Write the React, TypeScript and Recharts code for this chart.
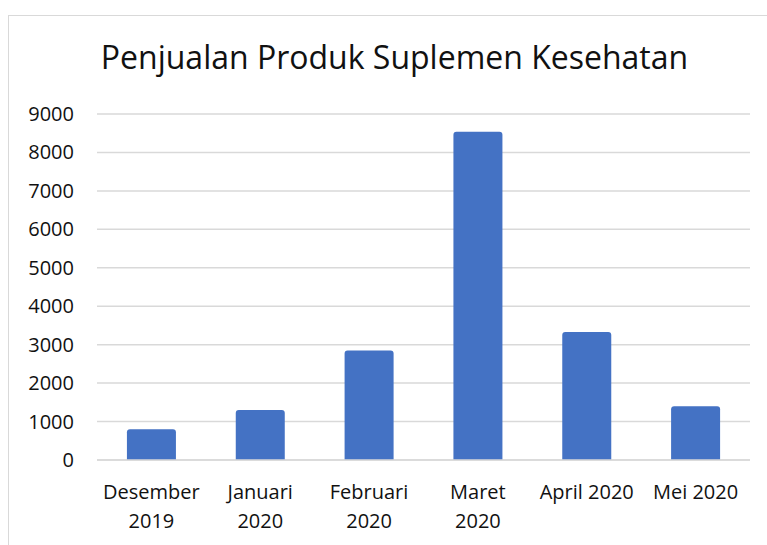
import React from "react";
import { BarChart, Bar, XAxis, YAxis, CartesianGrid } from "recharts";

const title = "Penjualan Produk Suplemen Kesehatan";
const categories = ["Desember\n2019", "Januari\n2020", "Februari\n2020", "Maret\n2020", "April 2020", "Mei 2020"];
const sales = [800, 1300, 2850, 8540, 3330, 1400];
const yTicks = [0, 1000, 2000, 3000, 4000, 5000, 6000, 7000, 8000, 9000];

const data = categories.map((c, i) => ({ name: c, value: sales[i] }));

const FONT = "'Open Sans', sans-serif";

const XTick = (props: any) => {
  const { x, y, payload } = props;
  const lines = String(payload.value).split("\n");
  return (
    <text x={x} y={y} textAnchor="middle" fontFamily={FONT} fontSize={20} fill="#111">
      {lines.map((l, i) => (
        <tspan key={i} x={x} dy={i === 0 ? 39 : 29}>
          {l}
        </tspan>
      ))}
    </text>
  );
};

const YTick = (props: any) => {
  const { y, payload } = props;
  return (
    <text x={74} y={y} dy={7} textAnchor="end" fontFamily={FONT} fontSize={20} fill="#111">
      {payload.value}
    </text>
  );
};

export default function App() {
  return (
    <div style={{ position: "absolute", left: 0, top: 0, width: 767, height: 545, background: "#fff", overflow: "hidden" }}>
      <div
        style={{
          position: "absolute",
          left: 8,
          top: 15,
          width: 780,
          height: 560,
          border: "1.5px solid #d9d9d9",
          boxSizing: "border-box",
        }}
      />
      <div
        style={{
          position: "absolute",
          left: 0,
          width: 789,
          top: 35,
          textAlign: "center",
          fontFamily: FONT,
          fontSize: 32,
          lineHeight: "44px",
          color: "#111",
          whiteSpace: "nowrap",
        }}
      >
        {title}
      </div>
      <div style={{ position: "absolute", left: 0, top: 0 }}>
        <BarChart
          width={767}
          height={545}
          data={data}
          margin={{ top: 114, right: 17, bottom: 0, left: 0 }}
          barCategoryGap="27.5%"
        >
          <CartesianGrid vertical={false} stroke="#d9d9d9" strokeWidth={1.5} />
          <XAxis
            dataKey="name"
            height={85}
            tickLine={false}
            axisLine={{ stroke: "#d9d9d9", strokeWidth: 1.5 }}
            tickSize={0}
            tickMargin={0}
            interval={0}
            tick={<XTick />}
          />
          <YAxis
            width={97}
            domain={[0, 9000]}
            ticks={yTicks}
            tickLine={false}
            axisLine={false}
            tick={<YTick />}
            interval={0}
          />
          <Bar dataKey="value" fill="#4472C4" radius={[3, 3, 0, 0]} isAnimationActive={false} />
        </BarChart>
      </div>
    </div>
  );
}
